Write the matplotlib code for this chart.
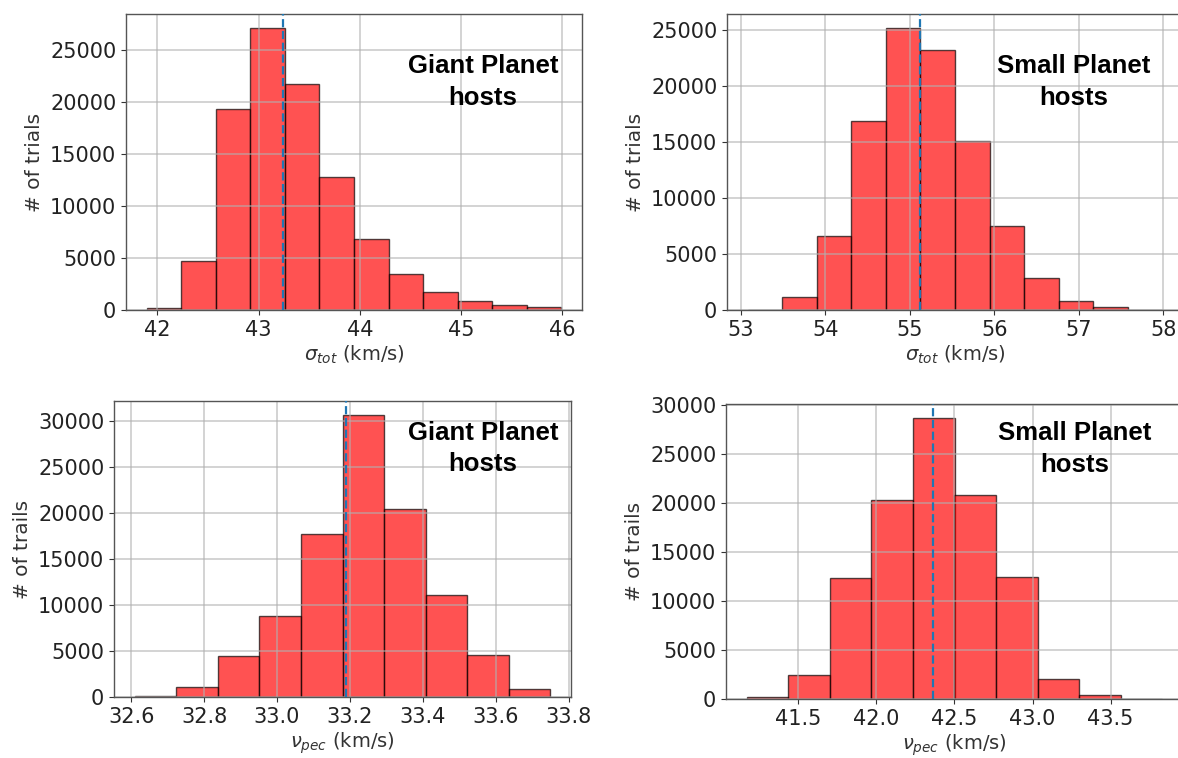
import numpy as np
import matplotlib
matplotlib.use("Agg")
import matplotlib.pyplot as plt
from matplotlib.ticker import MultipleLocator

# Histogram counts per panel (equal-width bins spanning the given range)
giant_sigma_range = (41.895, 45.99)
giant_sigma_counts = [150, 4750, 19300, 27080, 21730, 12820, 6830, 3460, 1730, 900, 450, 320]
giant_sigma_median = 43.24

small_sigma_range = (53.08, 57.99)
small_sigma_counts = [5, 1190, 6620, 16900, 25200, 23270, 15100, 7490, 2830, 840, 300, 10]
small_sigma_median = 55.125

giant_vpec_range = (32.61, 33.749)
giant_vpec_counts = [150, 1060, 4410, 8790, 17750, 30620, 20450, 11120, 4590, 840]
giant_vpec_median = 33.19

small_vpec_range = (41.17, 43.83)
small_vpec_counts = [240, 2420, 12300, 20290, 28670, 20800, 12440, 2050, 410, 10]
small_vpec_median = 42.363

sigma_label = r"$\sigma_{tot}$ (km/s)"
vpec_label = r"$\nu_{pec}$ (km/s)"
giant_tag = "Giant Planet\nhosts"
small_tag = "Small Planet\nhosts"

W, H = 1178, 758
fig = plt.figure(figsize=(W / 100, H / 100), dpi=100)


def px_axes(left, top, right, bottom):
    return fig.add_axes([left / W, 1 - bottom / H, (right - left) / W, (bottom - top) / H])


def draw(ax, rng, counts, median, xlabel, ylabel, tag, tag_xy, xstep):
    counts = np.asarray(counts, dtype=float)
    edges = np.linspace(rng[0], rng[1], len(counts) + 1)
    centers = 0.5 * (edges[:-1] + edges[1:])
    ax.hist(centers, bins=edges, weights=counts, color="red", alpha=0.68,
            edgecolor="black", linewidth=1.0)
    ax.axvline(median, color="#1f77b4", linestyle="--", linewidth=1.6, zorder=3)
    ax.grid(True, color="#b0b0b0", linewidth=1.2, alpha=0.65)
    ax.xaxis.set_major_locator(MultipleLocator(xstep))
    ax.tick_params(labelsize=15, colors="#333333", labelcolor="#222222")
    for s in ax.spines.values():
        s.set_color("#555555")
        s.set_linewidth(1.0)
    ax.set_xlabel(xlabel, fontsize=14, color="#333333", labelpad=3)
    ax.set_ylabel(ylabel, fontsize=14.5, color="#333333")
    ax.text(tag_xy[0], tag_xy[1], tag, transform=ax.transAxes, ha="center",
            va="center", multialignment="center", fontsize=18.5,
            fontweight="bold", family="Liberation Sans", linespacing=1.4)


ax1 = px_axes(126, 14, 582, 310)
draw(ax1, giant_sigma_range, giant_sigma_counts, giant_sigma_median,
     sigma_label, "# of trials", giant_tag, (0.783, 0.77), 1.0)

ax2 = px_axes(727, 14, 1183, 310)
draw(ax2, small_sigma_range, small_sigma_counts, small_sigma_median,
     sigma_label, "# of trials", small_tag, (0.761, 0.77), 1.0)

ax3 = px_axes(114, 401, 571, 697)
draw(ax3, giant_vpec_range, giant_vpec_counts, giant_vpec_median,
     vpec_label, "# of trails", giant_tag, (0.807, 0.84), 0.2)

ax4 = px_axes(726, 404, 1183, 699)
draw(ax4, small_vpec_range, small_vpec_counts, small_vpec_median,
     vpec_label, "# of trails", small_tag, (0.762, 0.848), 0.5)

fig.savefig("out.png", dpi=100)
